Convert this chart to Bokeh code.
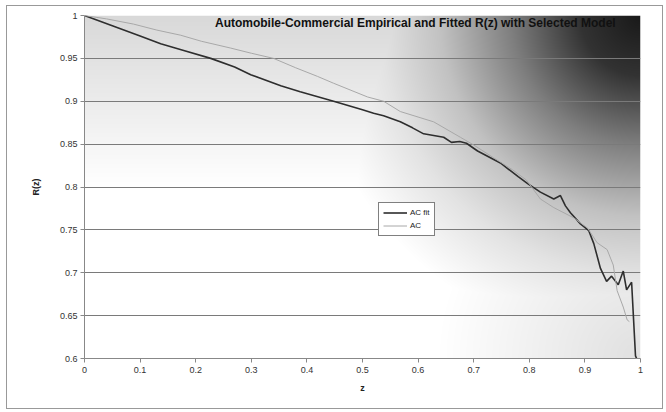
import numpy as np
from bokeh.plotting import figure
from bokeh.models import FixedTicker, Label, Legend, LegendItem, Range1d
from bokeh.embed import file_html
from bokeh.resources import INLINE

title_text = "Automobile-Commercial Empirical and Fitted R(z) with Selected Model"
x_label = "z"
y_label = "R(z)"

x_ticks = [0, 0.1, 0.2, 0.3, 0.4, 0.5, 0.6, 0.7, 0.8, 0.9, 1]
x_tick_labels = ["0", "0.1", "0.2", "0.3", "0.4", "0.5", "0.6", "0.7", "0.8", "0.9", "1"]
y_ticks = [0.6, 0.65, 0.7, 0.75, 0.8, 0.85, 0.9, 0.95, 1]
y_tick_labels = ["0.6", "0.65", "0.7", "0.75", "0.8", "0.85", "0.9", "0.95", "1"]

# "AC fit" series (dark line)
ac_fit_z = [0, 0.05, 0.1, 0.137, 0.18, 0.227, 0.27, 0.299, 0.353, 0.388, 0.448, 0.5,
            0.52, 0.538, 0.568, 0.59, 0.61, 0.646, 0.66, 0.675, 0.687, 0.707, 0.748,
            0.78, 0.797, 0.82, 0.844, 0.856, 0.865, 0.874, 0.892, 0.907, 0.916, 0.928,
            0.939, 0.948, 0.96, 0.969, 0.975, 0.984, 0.991, 0.993]
ac_fit_r = [1, 0.988, 0.976, 0.967, 0.959, 0.95, 0.94, 0.931, 0.918, 0.911, 0.9, 0.89,
            0.886, 0.883, 0.876, 0.869, 0.862, 0.858, 0.852, 0.853, 0.851, 0.842, 0.828,
            0.812, 0.804, 0.794, 0.786, 0.79, 0.778, 0.77, 0.757, 0.749, 0.734, 0.705,
            0.69, 0.696, 0.686, 0.702, 0.68, 0.689, 0.603, 0.6]

# "AC" series (light line)
ac_z = [0, 0.04, 0.088, 0.13, 0.173, 0.21, 0.263, 0.3, 0.34, 0.38, 0.419, 0.448, 0.509,
        0.538, 0.568, 0.628, 0.676, 0.7, 0.736, 0.77, 0.795, 0.82, 0.844, 0.88, 0.905,
        0.922, 0.94, 0.951, 0.958, 0.969, 0.976, 0.98]
ac_r = [1, 0.996, 0.99, 0.983, 0.977, 0.97, 0.962, 0.956, 0.95, 0.939, 0.929, 0.921, 0.905,
        0.9, 0.888, 0.876, 0.858, 0.849, 0.834, 0.82, 0.808, 0.786, 0.776, 0.764, 0.752,
        0.735, 0.727, 0.709, 0.679, 0.66, 0.645, 0.643]

FW, FH = 556, 343
p = figure(frame_width=FW, frame_height=FH, x_range=Range1d(0, 1), y_range=Range1d(0.6, 1.0),
           output_backend="svg", toolbar_location=None,
           min_border_left=77, min_border_right=22, min_border_top=9, min_border_bottom=50)
p.title.visible = False
p.background_fill_color = "white"
p.border_fill_color = "white"
p.outline_line_color = None
# outer chart-area border
p.margin = (5, 0, 0, 6)
p.styles = {"border": "1px solid #999999"}

# background gradient (dark at top-right corner)
px = np.arange(FW) + 0.5
py = np.arange(FH) + 0.5
X, Y = np.meshgrid(px, py)
r = np.hypot(FW - X, FH - Y)
b = np.interp(r, [0, 60, 130, 200, 260, 330], [0.1, 0.2, 0.5, 0.76, 0.89, 1.0])
t = np.clip(1 - (FH - Y) / 170.0, 0, 1) * 0.15
b = np.minimum(b, 1 - t)
d2 = np.hypot(FW - X, Y)
s = np.clip(1 - d2 / 200.0, 0, 1) * 0.12
b = np.minimum(b, 1 - s)
img = np.empty((FH, FW), dtype=np.uint32)
view = img.view(dtype=np.uint8).reshape((FH, FW, 4))
g = (b * 255).astype(np.uint8)
view[:, :, 0] = g
view[:, :, 1] = g
view[:, :, 2] = g
view[:, :, 3] = 255
p.image_rgba(image=[img], x=0, y=0.6, dw=1, dh=0.4, level="image")

# axes
for ax in (p.xaxis, p.yaxis):
    ax.axis_line_color = "#888888"
    ax.major_tick_line_color = "#888888"
    ax.major_tick_out = 4
    ax.major_tick_in = 0
    ax.minor_tick_line_color = None
    ax.major_label_text_font = "Liberation Sans"
    ax.major_label_text_font_size = "9px"
    ax.major_label_text_color = "#333333"
    ax.axis_label_text_font = "Liberation Sans"
    ax.axis_label_text_font_size = "9px"
    ax.axis_label_text_font_style = "bold"
    ax.axis_label_text_color = "#222222"

p.xaxis.ticker = FixedTicker(ticks=x_ticks)
p.xaxis.major_label_overrides = dict(zip(x_ticks, x_tick_labels))
p.yaxis.ticker = FixedTicker(ticks=y_ticks)
p.yaxis.major_label_overrides = dict(zip(y_ticks, y_tick_labels))
p.xaxis.axis_label = x_label
p.yaxis.axis_label = y_label
p.xaxis.major_label_standoff = 4
p.yaxis.major_label_standoff = 3
p.xaxis.axis_label_standoff = 7
p.yaxis.axis_label_standoff = 16

p.xgrid.visible = False
p.ygrid.grid_line_color = "#7a7a7a"
p.ygrid.grid_line_width = 1

r1 = p.line(ac_fit_z, ac_fit_r, line_color="#2e2e2e", line_width=1.6)
r2 = p.line(ac_z, ac_r, line_color="#a8a8a8", line_width=1)

legend = Legend(items=[LegendItem(label="AC fit", renderers=[r1]),
                       LegendItem(label="AC", renderers=[r2])],
                location=(294, 122))
legend.border_line_color = "black"
legend.border_line_width = 1
legend.background_fill_color = "white"
legend.background_fill_alpha = 1
legend.label_text_font = "Liberation Sans"
legend.label_text_font_size = "8px"
legend.label_text_color = "#222222"
legend.glyph_width = 24
legend.glyph_height = 11
legend.label_height = 11
legend.padding = 4
legend.spacing = 2
legend.margin = 0
legend.label_standoff = 3
p.add_layout(legend)

p.add_layout(Label(x=0.595, y=0.9907, text=title_text, text_align="center",
                   text_baseline="middle", text_font="Liberation Sans",
                   text_font_size="12px", text_font_style="bold", text_color="#111111"))

open("out.html", "w").write(file_html(p, INLINE))
